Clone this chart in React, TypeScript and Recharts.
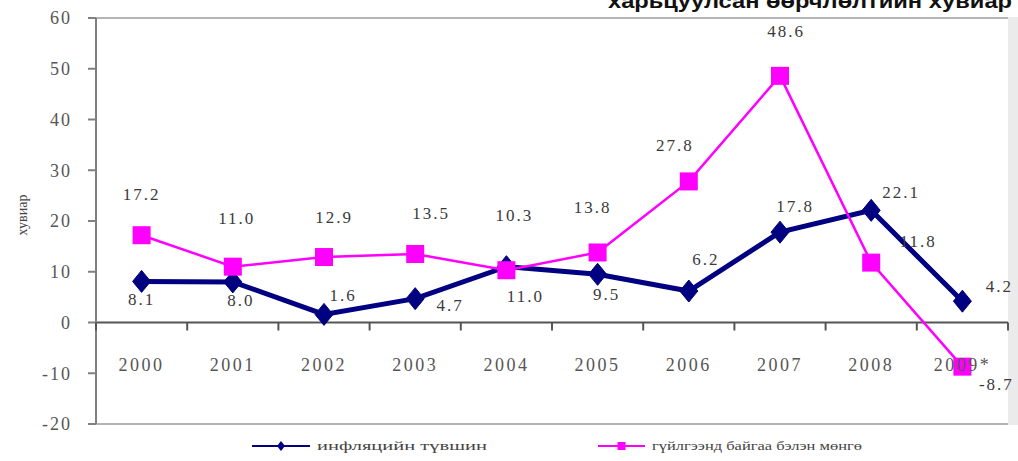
import React from 'react';
import { ComposedChart, Line, XAxis, YAxis, ReferenceLine, Legend, LabelList } from 'recharts';

// ---- data ----
const years = ['2000', '2001', '2002', '2003', '2004', '2005', '2006', '2007', '2008', '2009*'];
const inflation = [8.1, 8.0, 1.6, 4.7, 11.0, 9.5, 6.2, 17.8, 22.1, 4.2];
const cashInCirculation = [17.2, 11.0, 12.9, 13.5, 10.3, 13.8, 27.8, 48.6, 11.8, -8.7];
const yTicks = [-20, -10, 0, 10, 20, 30, 40, 50, 60];
const inflationName = 'инфляцийн түвшин';
const cashName = 'гүйлгээнд байгаа бэлэн мөнгө';
const yAxisTitle = 'хувиар';
const chartTitle = 'харьцуулсан өөрчлөлтийн хувиар';

// label placement (relative offsets from each point), kept apart from the values
const inflationLabelOffsets = [[0, 18], [8, 18], [19, -19], [35, 6], [19, 29], [9, 20], [17, -32], [15, -26], [30, -18], [37, -15]];
const cashLabelOffsets = [[0, -41], [4, -49], [10, -40], [16, -41], [8, -55], [-5, -45], [-14, -36], [6, -45], [47, -22], [34, 17]];

const rows = years.map((year, i) => ({ year, inflation: inflation[i], cash: cashInCirculation[i] }));

// ---- layout ----
const W = 1018;
const H = 461;
const X_AXIS_H = 1;
const MARGIN = { top: 18, right: 10, bottom: 36, left: 0 };
const Y_AXIS_W = 96;
const Y_MIN = -20;
const Y_MAX = 60;
const plotLeft = MARGIN.left + Y_AXIS_W;
const plotRight = W - MARGIN.right;
const plotTop = MARGIN.top;
const plotBottom = H - MARGIN.bottom - X_AXIS_H;
const zeroY = plotTop + (plotBottom - plotTop) * (Y_MAX / (Y_MAX - Y_MIN));
const bandW = (plotRight - plotLeft) / years.length;

const NAVY = '#000080';
const PINK = '#ff00ff';
const SERIF = '"Liberation Serif", "Times New Roman", serif';

const renderXTick = (props: any) => {
  const { x, payload, index } = props;
  const left = x - bandW / 2;
  return (
    <g key={`xt${index}`}>
      <line x1={left} x2={left} y1={zeroY} y2={zeroY + 8} stroke="#555" strokeWidth={2} />
      {index === years.length - 1 && (
        <line x1={x + bandW / 2} x2={x + bandW / 2} y1={zeroY} y2={zeroY + 8} stroke="#555" strokeWidth={2} />
      )}
      <text x={x} y={zeroY + 48} textAnchor="middle" fill="#555" fontSize={18} fontFamily={SERIF} letterSpacing={2.5}>
        {payload.value}
      </text>
    </g>
  );
};

const Diamond = (props: any) => {
  const { cx, cy, index } = props;
  if (cx == null || cy == null) return <g key={`d${index}`} />;
  return (
    <polygon
      key={`d${index}`}
      points={`${cx},${cy - 11} ${cx + 9},${cy} ${cx},${cy + 11} ${cx - 9},${cy}`}
      fill={NAVY}
      stroke={NAVY}
      strokeWidth={1}
    />
  );
};

const Square = (props: any) => {
  const { cx, cy, index } = props;
  if (cx == null || cy == null) return <g key={`s${index}`} />;
  return <rect key={`s${index}`} x={cx - 9} y={cy - 9} width={18} height={18} fill={PINK} />;
};

const makeLabel = (offsets: number[][]) => (props: any) => {
  const { x, y, value, index } = props;
  const off = offsets[index] || [0, 0];
  return (
    <text
      x={x + off[0]}
      y={y + off[1]}
      dy={6}
      textAnchor="middle"
      fill="#3a3a3a"
      fontSize={17}
      fontFamily={SERIF}
      letterSpacing={2}
    >
      {Number(value).toFixed(1)}
    </text>
  );
};

const legendLayout: Record<string, { x1: number; x2: number; textX: number; textLen: number }> = {
  inflation: { x1: 252, x2: 310, textX: 317, textLen: 170 },
  cash: { x1: 598, x2: 645, textX: 652, textLen: 210 },
};

const renderLegend = (props: any) => {
  const payload = props.payload || [];
  return (
    <svg width={W} height={29} style={{ display: 'block' }}>
      {payload.map((item: any, i: number) => {
        const l = legendLayout[item.dataKey as string];
        if (!l) return null;
        const mid = (l.x1 + l.x2) / 2;
        const isCash = item.dataKey === 'cash';
        return (
          <g key={i}>
            <line x1={l.x1} x2={l.x2} y1={14} y2={14} stroke={item.color} strokeWidth={2} />
            {isCash ? (
              <rect x={mid - 4} y={10} width={8} height={8} fill={item.color} />
            ) : (
              <polygon points={`${mid},${9} ${mid + 4},${14} ${mid},${19} ${mid - 4},${14}`} fill={item.color} />
            )}
            <text
              x={l.textX}
              y={18}
              fill="#444"
              fontSize={13}
              fontFamily={SERIF}
              textLength={l.textLen}
              lengthAdjust="spacingAndGlyphs"
            >
              {item.value}
            </text>
          </g>
        );
      })}
    </svg>
  );
};

export default function App() {
  return (
    <div style={{ position: 'absolute', left: 0, top: 0, width: W, height: H, overflow: 'hidden', background: '#fff' }}>
      <svg width={W} height={24} style={{ position: 'absolute', left: 0, top: 0 }}>
        <text
          x={608}
          y={8}
          fill="#111"
          fontSize={20}
          fontWeight="bold"
          fontFamily='"Liberation Sans", Arial, sans-serif'
          textLength={404}
          lengthAdjust="spacingAndGlyphs"
        >
          {chartTitle}
        </text>
      </svg>
      <div style={{ position: 'absolute', left: plotRight, top: plotTop - 1, width: W - plotRight, height: plotBottom - plotTop + 2, background: '#ebebeb' }} />
      <div style={{ position: 'absolute', left: 0, top: 0 }}>
        <ComposedChart width={W} height={H} data={rows} margin={MARGIN}>
          <XAxis
            dataKey="year"
            scale="band"
            height={X_AXIS_H}
            axisLine={false}
            tickLine={false}
            interval={0}
            tick={renderXTick}
          />
          <YAxis
            domain={[Y_MIN, Y_MAX]}
            ticks={yTicks}
            width={Y_AXIS_W}
            interval={0}
            allowDataOverflow
            axisLine={{ stroke: '#808080', strokeWidth: 2 }}
            tickLine={{ stroke: '#808080', strokeWidth: 2 }}
            tickSize={8}
            tickMargin={16}
            tick={{ fill: '#555', fontSize: 18, fontFamily: SERIF, letterSpacing: 2 }}
            label={{
              value: yAxisTitle,
              angle: -90,
              position: 'insideLeft',
              offset: 22,
              dy: -6,
              style: { fill: '#444', fontSize: 14, fontFamily: SERIF, textAnchor: 'middle' },
            }}
          />
          <ReferenceLine y={Y_MAX} stroke="#b4b4b4" strokeWidth={2} />
          <ReferenceLine y={Y_MIN} stroke="#b4b4b4" strokeWidth={2} />
          <ReferenceLine y={0} stroke="#555" strokeWidth={2} />
          <Line
            dataKey="inflation"
            name={inflationName}
            stroke={NAVY}
            strokeWidth={5}
            dot={Diamond}
            activeDot={false}
            isAnimationActive={false}
          >
            <LabelList dataKey="inflation" content={makeLabel(inflationLabelOffsets)} />
          </Line>
          <Line
            dataKey="cash"
            name={cashName}
            stroke={PINK}
            strokeWidth={2.5}
            dot={Square}
            activeDot={false}
            isAnimationActive={false}
          >
            <LabelList dataKey="cash" content={makeLabel(cashLabelOffsets)} />
          </Line>
          <Legend
            layout="horizontal"
            verticalAlign="middle"
            align="center"
            wrapperStyle={{ left: 0, top: 432, width: W, height: 29 }}
            content={renderLegend}
          />
        </ComposedChart>
      </div>
    </div>
  );
}
